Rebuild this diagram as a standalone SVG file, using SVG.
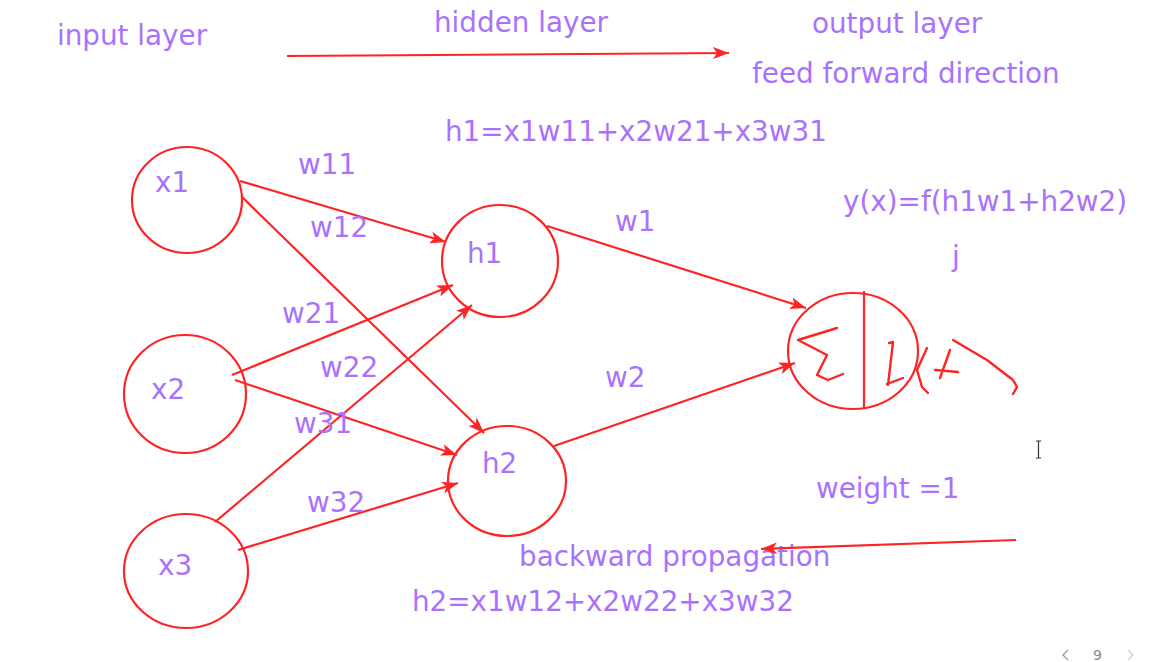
<svg xmlns="http://www.w3.org/2000/svg" width="1153" height="662" viewBox="0 0 1153 662">
<style>
.t{font-family:"DejaVu Sans",Verdana,sans-serif;font-size:27.8px;fill:#aa72fc}
.n{fill:none;stroke:#ff2424;stroke-width:2.2}
.e{fill:none;stroke:#ff2424;stroke-width:2.2;marker-end:url(#ah)}
.h{fill:none;stroke:#ff2424;stroke-width:2.4;stroke-linecap:round;stroke-linejoin:round}
.ui{font-family:"DejaVu Sans",sans-serif;font-size:14px;fill:#888}
</style>
<defs>
<marker id="ah" markerUnits="userSpaceOnUse" markerWidth="18" markerHeight="14" refX="16" refY="6" orient="auto">
<path d="M0,0 L16,6 L0,12 L4,6 Z" fill="#ff2424"/>
</marker>
</defs>
<rect width="1153" height="662" fill="#fff"/>
<g id="titles">
<text class="t" x="57" y="45">input layer</text>
<text class="t" x="434" y="32">hidden layer</text>
<text class="t" x="812" y="33">output layer</text>
<text class="t" x="752" y="83">feed forward direction</text>
<text class="t" x="445" y="141">h1=x1w11+x2w21+x3w31</text>
<text class="t" x="843" y="211">y(x)=f(h1w1+h2w2)</text>
<text class="t" x="952" y="266">j</text>
<text class="t" x="816" y="498">weight =1</text>
<text class="t" x="519" y="566">backward propagation</text>
<text class="t" x="412" y="611">h2=x1w12+x2w22+x3w32</text>
</g>
<g id="x1"><ellipse class="n" cx="187" cy="200" rx="55" ry="53"/><text class="t" x="155" y="192">x1</text></g>
<g id="x2"><ellipse class="n" cx="185" cy="394" rx="61" ry="59"/><text class="t" x="151" y="399">x2</text></g>
<g id="x3"><ellipse class="n" cx="186" cy="571" rx="62" ry="57"/><text class="t" x="158" y="575">x3</text></g>
<g id="h1"><ellipse class="n" cx="500" cy="261" rx="58" ry="56"/><text class="t" x="467" y="263">h1</text></g>
<g id="h2"><ellipse class="n" cx="507" cy="481" rx="59" ry="55"/><text class="t" x="482" y="473">h2</text></g>
<g id="out">
<ellipse class="n" cx="853" cy="351" rx="65" ry="58"/>
<line class="n" x1="864" y1="291" x2="864" y2="408"/>
<path class="h" d="M837,328 L798,340 L827,355 L817,375 L828,380 L843,374"/>
<path class="h" d="M889,343 L893,342 L888,385 M887,384 L903,378"/>
<path class="h" d="M927,348 L917,370 L922,387 L928,393"/>
<path class="h" d="M950,350 L940,378 M935,370 L958,372"/>
<path class="h" d="M953,340 L987,360 L1013,380 L1017,387 L1013,394"/>
</g>
<g id="connectors">
<line class="e" x1="287" y1="56" x2="729" y2="53"/>
<line class="e" x1="1016" y1="540" x2="761" y2="549"/>
<line class="e" x1="240" y1="181" x2="446" y2="242"/>
<line class="e" x1="242" y1="197" x2="484" y2="433"/>
<line class="e" x1="232" y1="375" x2="453" y2="285"/>
<line class="e" x1="235" y1="380" x2="457" y2="455"/>
<line class="e" x1="215" y1="522" x2="472" y2="305"/>
<line class="e" x1="238" y1="550" x2="458" y2="483"/>
<line class="e" x1="547" y1="226" x2="806" y2="308"/>
<line class="e" x1="554" y1="446" x2="795" y2="363"/>
</g>
<g id="labels">
<text class="t" x="298" y="174">w11</text>
<text class="t" x="310" y="237">w12</text>
<text class="t" x="282" y="323">w21</text>
<text class="t" x="320" y="377">w22</text>
<text class="t" x="294" y="433">w31</text>
<text class="t" x="307" y="512">w32</text>
<text class="t" x="615" y="231">w1</text>
<text class="t" x="605" y="387">w2</text>
</g>
<g id="ui">
<path d="M1036,441 L1041,441 M1038.5,441 L1038.5,458 M1036,458 L1041,458" stroke="#333" stroke-width="1.2" fill="none"/>
<path d="M1068,650 L1063,655 L1068,660" stroke="#999" stroke-width="1.3" fill="none"/>
<text class="ui" x="1093" y="660">9</text>
<path d="M1128,650 L1133,655 L1128,660" stroke="#ccc" stroke-width="1.3" fill="none"/>
</g>
</svg>
